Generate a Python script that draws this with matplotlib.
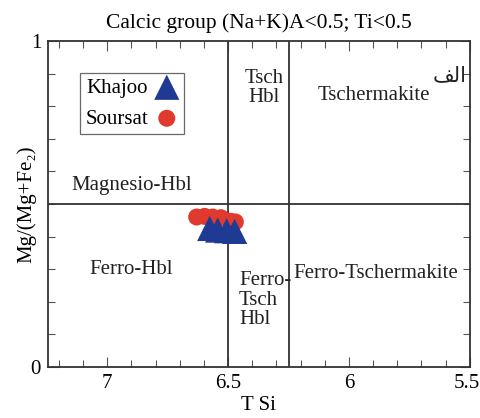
import matplotlib
matplotlib.use("Agg")
import matplotlib.pyplot as plt
import matplotlib.transforms as mtransforms
from matplotlib.ticker import MultipleLocator, FixedLocator

plt.rcParams['font.family'] = ['Liberation Serif', 'DejaVu Serif', 'DejaVu Sans']

# data
khajoo_si = [6.576, 6.543, 6.506, 6.473]
khajoo_mg = [0.425, 0.420, 0.418, 0.416]
soursat_si = [6.630, 6.597, 6.564, 6.530, 6.490, 6.470]
soursat_mg = [0.460, 0.462, 0.460, 0.458, 0.447, 0.445]

x_ticks = [7, 6.5, 6, 5.5]
x_ticklabels = ["7", "6.5", "6", "5.5"]

fig = plt.figure(figsize=(4.81, 4.18), dpi=100)
ax = fig.add_axes([0.0998, 0.122, 0.877, 0.780])

# field boundaries
ax.axhline(0.5, color="#333333", lw=1.3)
ax.axvline(6.5, color="#333333", lw=1.3)
ax.axvline(6.25, color="#333333", lw=1.3)

ax.scatter(khajoo_si, khajoo_mg, s=330, marker="^", color="#1f3a93",
           edgecolors="none", zorder=4, label="Khajoo")
ax.scatter(soursat_si, soursat_mg, s=150, marker="o", color="#e03a2f",
           edgecolors="none", zorder=3, label="Soursat")

ax.set_xlim(7.245, 5.5)
ax.set_ylim(0, 1)

ax.xaxis.set_major_locator(FixedLocator(x_ticks))
ax.set_xticklabels(x_ticklabels)
ax.xaxis.set_minor_locator(MultipleLocator(0.1))
ax.yaxis.set_major_locator(FixedLocator([0, 1]))
ax.set_yticklabels(["0", "1"])
ax.yaxis.set_minor_locator(MultipleLocator(0.1))
ax.tick_params(which="both", direction="in", top=True, right=True,
               labelsize=15, color="#555555", width=0.8)
ax.tick_params(which="major", length=7, pad=5)
ax.tick_params(which="minor", length=5)
for s in ax.spines.values():
    s.set_color("#333333")
    s.set_linewidth(1.3)

# nudge the last x label so it stays inside the figure
last = ax.get_xticklabels()[-1]
last.set_transform(last.get_transform() +
                   mtransforms.ScaledTranslation(-3 / 100, 0, fig.dpi_scale_trans))

ax.set_xlabel("T Si", fontsize=15, labelpad=2)
ax.set_ylabel("Mg/(Mg+Fe\u2082)", fontsize=15, labelpad=-4)
ax.set_title("Calcic group (Na+K)A<0.5; Ti<0.5", fontsize=15.5, pad=9)

tc = "#222222"
fs = 15
ax.text(6.35, 0.856, "Tsch\nHbl", ha="center", va="center", fontsize=fs,
        color=tc, linespacing=1.05)
ax.text(5.897, 0.834, "Tschermakite", ha="center", va="center", fontsize=fs, color=tc)
ax.text(5.584, 0.896, "\uFED2\uFEDF\uFE8D", ha="center", va="center", fontsize=15,
        color=tc, family="DejaVu Sans")
ax.text(6.90, 0.558, "Magnesio-Hbl", ha="center", va="center", fontsize=fs, color=tc)
ax.text(6.90, 0.298, "Ferro-Hbl", ha="center", va="center", fontsize=fs, color=tc)
ax.text(6.455, 0.205, "Ferro-\nTsch\nHbl", ha="left", va="center", fontsize=fs,
        color=tc, linespacing=1.05)
ax.text(5.889, 0.288, "Ferro-Tschermakite", ha="center", va="center", fontsize=fs, color=tc)

leg = ax.legend(loc="upper left", bbox_to_anchor=(0.076, 0.902), markerfirst=False,
                fontsize=fs, frameon=True, fancybox=False, edgecolor="#444444",
                handletextpad=0.3, borderpad=0.25, labelspacing=0.55,
                borderaxespad=0, handlelength=1.2)
leg.get_frame().set_linewidth(0.9)
leg.legend_handles[0].set_sizes([330])
leg.legend_handles[1].set_sizes([150])

fig.savefig("out.png", dpi=100)
